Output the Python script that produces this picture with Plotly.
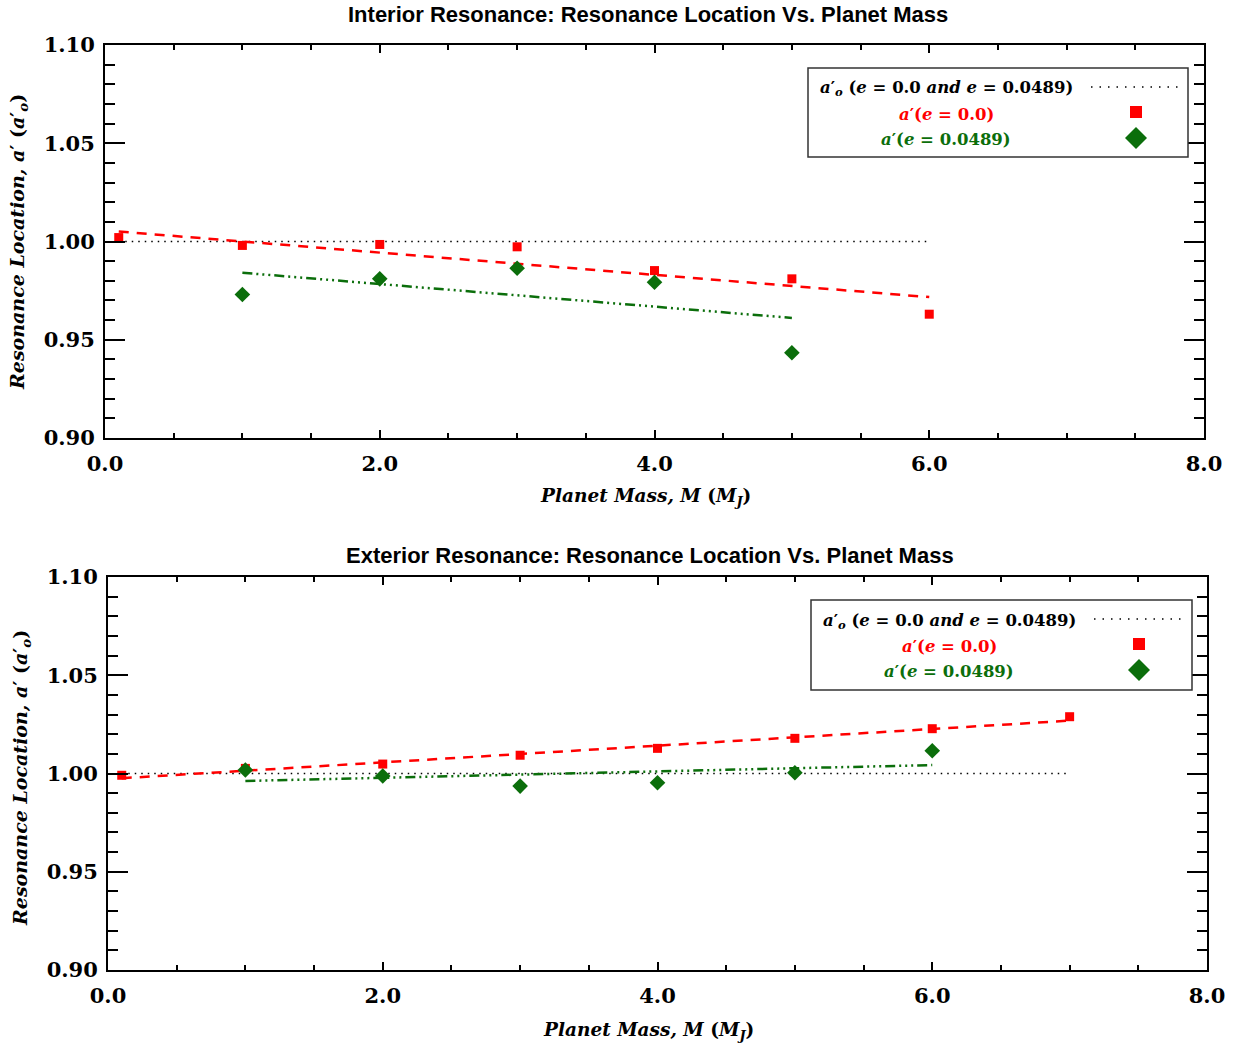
import plotly.graph_objects as go

W, H = 1237, 1051

# ---------------- data ----------------
top_mass_e0 = [0.1, 1, 2, 3, 4, 5, 6]
top_a_e0 = [1.002, 0.998, 0.9985, 0.9973, 0.9852, 0.981, 0.963]
top_mass_e = [1, 2, 3, 4, 5]
top_a_e = [0.973, 0.981, 0.9864, 0.9793, 0.9434]
top_fit_e0_x = [0.1, 6]
top_fit_e0_y = [1.0051, 0.9717]
top_fit_e_x = [1, 5]
top_fit_e_y = [0.9841, 0.9611]
top_ref_x = [0.1, 6]
top_ref_y = [1.0, 1.0]

bot_mass_e0 = [0.1, 1, 2, 3, 4, 5, 6, 7]
bot_a_e0 = [0.9991, 1.0026, 1.0048, 1.0093, 1.0128, 1.0179, 1.0228, 1.0289]
bot_mass_e = [1, 2, 3, 4, 5, 6]
bot_a_e = [1.0018, 0.9987, 0.9936, 0.9953, 1.0004, 1.0116]
bot_fit_e0_x = [0.1, 7]
bot_fit_e0_y = [0.9976, 1.0269]
bot_fit_e_x = [1, 6]
bot_fit_e_y = [0.9962, 1.0043]
bot_ref_x = [0.1, 7]
bot_ref_y = [1.0, 1.0]

titles = ["Interior Resonance: Resonance Location Vs. Planet Mass",
          "Exterior Resonance: Resonance Location Vs. Planet Mass"]

RED = "#ff0000"
GREEN = "#0b6e0b"
SERIF = "DejaVu Serif"


def px(x):
    return x / W


def py(y):
    return 1 - y / H


fig = go.Figure()


def add_panel(xa, ya, fx, fy, gx, gy, rx, ry, sx, sy, dx, dy):
    fig.add_trace(go.Scatter(x=rx, y=ry, mode="lines", xaxis=xa, yaxis=ya,
                             line=dict(color="black", width=1.5, dash="1.5px,5px"),
                             showlegend=False))
    fig.add_trace(go.Scatter(x=fx, y=fy, mode="lines", xaxis=xa, yaxis=ya,
                             line=dict(color=RED, width=2.5, dash="10px,8px"),
                             showlegend=False))
    fig.add_trace(go.Scatter(x=gx, y=gy, mode="lines", xaxis=xa, yaxis=ya,
                             line=dict(color=GREEN, width=2.5,
                                       dash="10px,4px,2px,4px,2px,4px,2px,4px"),
                             showlegend=False))
    fig.add_trace(go.Scatter(x=sx, y=sy, mode="markers", xaxis=xa, yaxis=ya,
                             marker=dict(symbol="square", size=9, color=RED),
                             showlegend=False))
    fig.add_trace(go.Scatter(x=dx, y=dy, mode="markers", xaxis=xa, yaxis=ya,
                             marker=dict(symbol="diamond", size=12, color=GREEN),
                             showlegend=False))


add_panel("x", "y", top_fit_e0_x, top_fit_e0_y, top_fit_e_x, top_fit_e_y,
          top_ref_x, top_ref_y, top_mass_e0, top_a_e0, top_mass_e, top_a_e)
add_panel("x2", "y2", bot_fit_e0_x, bot_fit_e0_y, bot_fit_e_x, bot_fit_e_y,
          bot_ref_x, bot_ref_y, bot_mass_e0, bot_a_e0, bot_mass_e, bot_a_e)


def xaxis(domain, anchor):
    return dict(domain=domain, anchor=anchor, range=[0, 8], dtick=2, tick0=0,
                tickformat=".1f", showline=True, linewidth=2, linecolor="black",
                mirror="allticks", ticks="inside", ticklen=8, tickwidth=2,
                tickcolor="black", showgrid=False, zeroline=False, automargin=False,
                tickfont=dict(family=SERIF, size=21, color="black", weight="bold"),
                ticklabelstandoff=6,
                minor=dict(dtick=0.5, ticklen=5, tickwidth=2, ticks="inside",
                           tickcolor="black", showgrid=False))


def yaxis(domain, anchor):
    return dict(domain=domain, anchor=anchor, range=[0.90, 1.10], dtick=0.05,
                tick0=0.9, tickformat=".2f", showline=True, linewidth=2,
                linecolor="black", mirror="allticks", ticks="inside", ticklen=20,
                tickwidth=2, tickcolor="black", showgrid=False, zeroline=False,
                automargin=False,
                tickfont=dict(family=SERIF, size=21, color="black", weight="bold"),
                ticklabelstandoff=4,
                minor=dict(dtick=0.01, ticklen=10, tickwidth=2, ticks="inside",
                           tickcolor="black", showgrid=False))


fig.update_layout(
    width=W, height=H, margin=dict(l=0, r=0, t=0, b=0, autoexpand=False),
    paper_bgcolor="white", plot_bgcolor="white", showlegend=False,
    xaxis=xaxis([px(105), px(1204)], "y"),
    yaxis=yaxis([py(438), py(45)], "x"),
    xaxis2=xaxis([px(108), px(1207)], "y2"),
    yaxis2=yaxis([py(970), py(577)], "x2"),
)

ann = []
shapes = []
# titles
for t, (cx, cy) in zip(titles, [(648, 15), (650, 555)]):
    ann.append(dict(text="<b>" + t + "</b>", x=px(cx), y=py(cy), xref="paper", yref="paper",
                    showarrow=False, xanchor="center", yanchor="middle",
                    font=dict(family="Liberation Sans", size=22, color="black")))

xt = "<b><i>Planet Mass, M</i> (<i>M<sub>J</sub></i>)</b>"
yt = "<b><i>Resonance Location, a</i>′ (<i>a</i>′<sub><i>o</i></sub>)</b>"
for (xx, xy), (yx, yy) in [((645, 497), (18, 242)), ((648, 1031), (21, 778))]:
    ann.append(dict(text=xt, x=px(xx), y=py(xy), xref="paper", yref="paper",
                    showarrow=False, xanchor="center", yanchor="middle",
                    font=dict(family=SERIF, size=18.5, color="black")))
    ann.append(dict(text=yt, x=px(yx), y=py(yy), xref="paper", yref="paper",
                    showarrow=False, xanchor="center", yanchor="middle", textangle=-90,
                    font=dict(family=SERIF, size=19, color="black")))

# legends
leg1 = "<b><i>a</i>′<sub><i>o</i></sub> (<i>e</i> = 0.0 <i>and e</i> = 0.0489)</b>"
leg2 = "<b><i>a</i>′(<i>e</i> = 0.0)</b>"
leg3 = "<b><i>a</i>′(<i>e</i> = 0.0489)</b>"
for (bx0, by0, bx1, by1) in [(808, 68, 1188, 157), (811, 600, 1192, 690)]:
    shapes.append(dict(type="rect", xref="paper", yref="paper",
                       x0=px(bx0), x1=px(bx1), y0=py(by1), y1=py(by0),
                       line=dict(color="#333333", width=1.5), fillcolor="white",
                       layer="above"))
    tx = bx0 + 138
    r1, r2, r3 = by0 + 21, by0 + 46, by0 + 71
    ann.append(dict(text=leg1, x=px(tx), y=py(r1), xref="paper", yref="paper",
                    showarrow=False, xanchor="center", yanchor="middle",
                    font=dict(family=SERIF, size=16.5, color="black")))
    ann.append(dict(text=leg2, x=px(tx), y=py(r2), xref="paper", yref="paper",
                    showarrow=False, xanchor="center", yanchor="middle",
                    font=dict(family=SERIF, size=16.5, color=RED)))
    ann.append(dict(text=leg3, x=px(tx), y=py(r3), xref="paper", yref="paper",
                    showarrow=False, xanchor="center", yanchor="middle",
                    font=dict(family=SERIF, size=16.5, color=GREEN)))
    sx = bx0 + 328
    shapes.append(dict(type="line", xref="paper", yref="paper",
                       x0=px(bx0 + 283), x1=px(bx0 + 372), y0=py(r1 - 2), y1=py(r1 - 2),
                       line=dict(color="black", width=1.5, dash="1.5px,7px"), layer="above"))
    shapes.append(dict(type="rect", xref="paper", yref="paper",
                       x0=px(sx - 6), x1=px(sx + 6), y0=py(r2 + 4), y1=py(r2 - 8),
                       line=dict(width=0), fillcolor=RED, layer="above"))
    cy = r3 - 1
    path = "M {} {} L {} {} L {} {} L {} {} Z".format(
        px(sx - 11), py(cy), px(sx), py(cy - 11), px(sx + 11), py(cy), px(sx), py(cy + 11))
    shapes.append(dict(type="path", xref="paper", yref="paper", path=path,
                       line=dict(width=0), fillcolor=GREEN, layer="above"))

fig.update_layout(annotations=ann, shapes=shapes)
fig.write_html("out.html")
